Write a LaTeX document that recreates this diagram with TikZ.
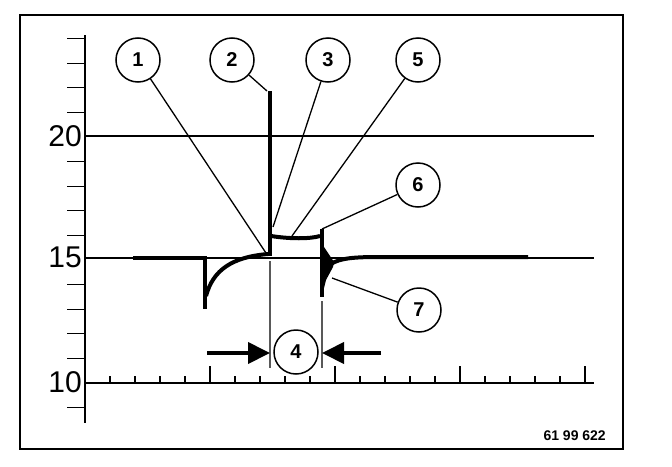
\documentclass[tikz,border=0pt]{standalone}
\usepackage{fontspec}
\setmainfont{Liberation Sans}
\usetikzlibrary{arrows.meta}
\begin{document}
\begin{tikzpicture}[x=1pt,y=-1pt,
  grid/.style={line width=1.2pt},
  sig/.style={line width=4pt,line join=miter},
  lead/.style={line width=1.3pt},
  dimline/.style={line width=1.2pt,gray!70!black},
  dimarrow/.style={line width=4pt,-{Triangle[length=22pt,width=21pt]}},
  callout/.style={circle,draw,line width=1.5pt,minimum size=44pt,inner sep=0pt,font=\fontsize{20}{20}\selectfont\bfseries},
  axlabel/.style={anchor=east,inner sep=0pt,font=\fontsize{30}{30}\selectfont}]
\useasboundingbox (0,0) rectangle (672,466);
% frame
\draw[line width=2pt] (20,15) rectangle (623,449);
% axis and grid
\draw[grid] (85,35) -- (85,423);
\draw[grid] (85,136) -- (594,136);
\draw[grid] (85,258) -- (594,258);
\draw[grid] (85,383) -- (594,383);
\foreach \v in {9,11,12,13,14,16,17,18,19,21,22,23,24}
  \draw[grid] (67,{383-24.6*(\v-10)}) -- (85,{383-24.6*(\v-10)});
\foreach \k in {1,...,20}{
  \pgfmathsetmacro{\h}{mod(\k,5)==0 ? 17 : 7}
  \draw[line width=1.6pt] ({85+25*\k},383) -- ({85+25*\k},{383-\h});
}
\node[axlabel] (l20) at (82,136) {20};
\node[axlabel] (l15) at (82,257) {15};
\node[axlabel] (l10) at (82,382) {10};
% signal
\draw[sig] (133,258) -- (205,258) -- (205,309);
\draw[sig] (206,296) .. controls (213,270) and (232,257) .. (268,254);
\draw[sig] (270,256) -- (270,91);
\draw[sig] (271,236) .. controls (290,239) and (310,239) .. (320,236);
\draw[sig] (322,229) -- (322,297);
\fill (322,244) -- (330,256) -- (334,262) -- (333,267) -- (326,280) -- (323,292) -- cycle;
\draw[sig] (331,264) .. controls (340,258) and (355,257) .. (380,257) -- (528,257);
% dimension
\coordinate (d1) at (270,353);
\coordinate (d2) at (322,353);
\coordinate (a1) at (207,353);
\coordinate (a2) at (381,353);
\draw[dimline] (270,261) -- (270,368);
\draw[dimline] (322,301) -- (322,368);
\draw[dimarrow] (a1) -- (d1);
\draw[dimarrow] (a2) -- (d2);
% callouts
\node[callout] (c1) at (138,60) {1};
\node[callout] (c2) at (232,60) {2};
\node[callout] (c3) at (328,60) {3};
\node[callout] (c4) at (296,352) {4};
\node[callout] (c5) at (418,60) {5};
\node[callout] (c6) at (418,185) {6};
\node[callout] (c7) at (419,310) {7};
\coordinate (t1) at (266,253);
\coordinate (t2) at (267,91);
\coordinate (t3) at (273,227);
\coordinate (t5) at (292,236);
\coordinate (t6) at (322,229);
\coordinate (t7) at (332,278);
\draw[lead] (c1) -- (t1);
\draw[lead] (c2) -- (t2);
\draw[lead] (c3) -- (t3);
\draw[lead] (c5) -- (t5);
\draw[lead] (c6) -- (t6);
\draw[lead] (c7) -- (t7);
\node[anchor=east,inner sep=0pt,font=\fontsize{14}{14}\selectfont\bfseries] (code) at (606,436) {61 99 622};
\end{tikzpicture}
\end{document}
